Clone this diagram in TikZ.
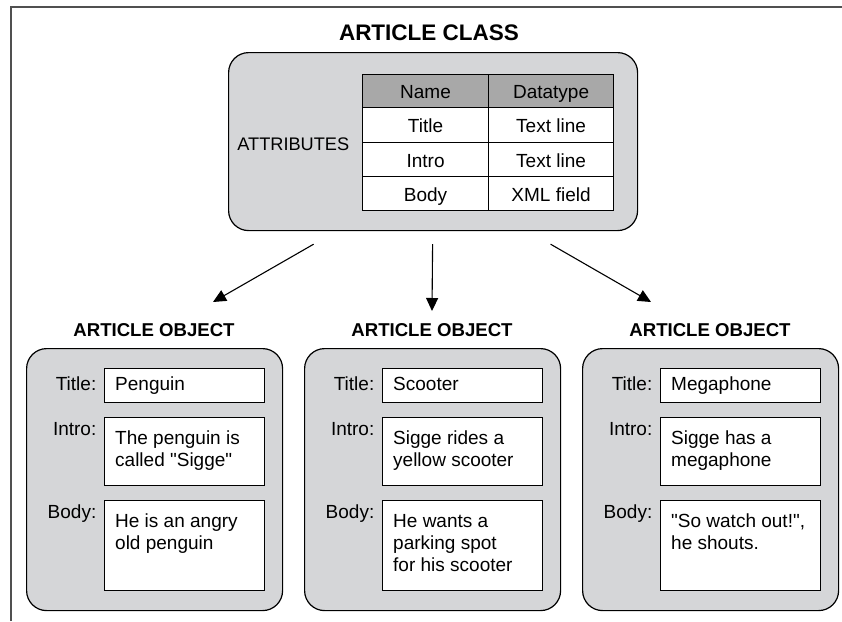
\documentclass[tikz,border=0pt]{standalone}
\usepackage{fontspec}
\setmainfont{Liberation Sans}[Ligatures=TeXOff]
\usetikzlibrary{arrows.meta,calc}
\definecolor{panelgray}{HTML}{D5D6D8}
\definecolor{hdrgray}{HTML}{A8A8A8}
\definecolor{framegray}{HTML}{505050}
\newcommand\myBody{\fontsize{19}{22}\selectfont}
\newcommand\myHead{\bfseries\fontsize{18.6}{20}\selectfont}
\newcommand\myClass{\bfseries\fontsize{22.5}{24}\selectfont}
\newcommand\myAttr{\fontsize{18.2}{20}\selectfont}
\tikzset{
  panel/.style={draw=black, line width=1.2pt, fill=panelgray, rounded corners=20pt,
    anchor=north west, minimum width=256pt, minimum height=262pt, inner sep=0pt},
  field/.style={draw=black, line width=1.1pt, fill=white, anchor=north west,
    minimum width=160pt, inner sep=0pt},
  ftext/.style={anchor=base west, inner sep=0pt, font=\myBody},
  flabel/.style={anchor=base east, inner sep=0pt, font=\myBody},
  heading/.style={anchor=base, inner sep=0pt, font=\myHead},
  cell/.style={draw=black, line width=1.1pt, fill=white, anchor=north west,
    inner sep=0pt, text height=15pt, text depth=0pt, font=\myBody},
  arr/.style={line width=1.1pt, -{Triangle[length=13pt,width=12pt]}},
}
\newcommand\objpanel[2]{%
  \node[heading] (h#1) at (#2+128,336.7) {ARTICLE OBJECT};
  \node[panel] (p#1) at (#2,348) {};
  \node[field, minimum height=34pt] (t#1) at (#2+77.5,367.7) {};
  \node[field, minimum height=68.3pt] (i#1) at (#2+77.5,416.7) {};
  \node[field, minimum height=90pt] (b#1) at (#2+77.5,500) {};
  \node[flabel] (tl#1) at ($(t#1.north west)+(-7,23)$) {Title:};
  \node[flabel] (il#1) at ($(i#1.north west)+(-7,18.3)$) {Intro:};
  \node[flabel] (bl#1) at ($(b#1.north west)+(-7,18.3)$) {Body:};
}
\begin{document}
\begin{tikzpicture}[x=1pt,y=-1pt]
\useasboundingbox (0,0) rectangle (842,621);
\fill[white] (0,0) rectangle (842,621);
% frame
\draw[framegray, line width=2pt] (11,621) -- (11,7) -- (842,7);

% class
\node[heading, font=\myClass] (ctitle) at (429,40) {ARTICLE CLASS};
\node[panel, minimum width=409pt, minimum height=178pt] (cls) at (228,52) {};
\node[anchor=base, inner sep=0pt, font=\myAttr] (attr) at (293.3,150) {ATTRIBUTES};
\node[cell, fill=hdrgray, minimum width=126pt, minimum height=33.3pt] (c11) at (362,74) {Name};
\node[cell, fill=hdrgray, minimum width=125pt, minimum height=33.3pt] (c12) at (488,74) {Datatype};
\node[cell, minimum width=126pt, minimum height=35pt] (c21) at (362,107.3) {Title};
\node[cell, minimum width=125pt, minimum height=35pt] (c22) at (488,107.3) {Text line};
\node[cell, minimum width=126pt, minimum height=33.7pt] (c31) at (362,142.3) {Intro};
\node[cell, minimum width=125pt, minimum height=33.7pt] (c32) at (488,142.3) {Text line};
\node[cell, minimum width=126pt, minimum height=34pt] (c41) at (362,176) {Body};
\node[cell, minimum width=125pt, minimum height=34pt] (c42) at (488,176) {XML field};

% objects
\objpanel{1}{26}
\objpanel{2}{304}
\objpanel{3}{582}

\node[ftext] (tt1) at ($(t1.north west)+(11.5,23)$) {Penguin};
\node[ftext] (it1a) at ($(i1.north west)+(11.5,28)$) {The penguin is};
\node[ftext] (it1b) at ($(i1.north west)+(11.5,50)$) {called "Sigge"};
\node[ftext] (bt1a) at ($(b1.north west)+(11.5,27.5)$) {He is an angry};
\node[ftext] (bt1b) at ($(b1.north west)+(11.5,49.5)$) {old penguin};

\node[ftext] (tt2) at ($(t2.north west)+(11.5,23)$) {Scooter};
\node[ftext] (it2a) at ($(i2.north west)+(11.5,28)$) {Sigge rides a};
\node[ftext] (it2b) at ($(i2.north west)+(11.5,50)$) {yellow scooter};
\node[ftext] (bt2a) at ($(b2.north west)+(11.5,27.5)$) {He wants a};
\node[ftext] (bt2b) at ($(b2.north west)+(11.5,49.5)$) {parking spot};
\node[ftext] (bt2c) at ($(b2.north west)+(11.5,71.5)$) {for his scooter};

\node[ftext] (tt3) at ($(t3.north west)+(11.5,23)$) {Megaphone};
\node[ftext] (it3a) at ($(i3.north west)+(11.5,28)$) {Sigge has a};
\node[ftext] (it3b) at ($(i3.north west)+(11.5,50)$) {megaphone};
\node[ftext] (bt3a) at ($(b3.north west)+(11.5,27.5)$) {"So watch out!",};
\node[ftext] (bt3b) at ($(b3.north west)+(11.5,49.5)$) {he shouts.};

% arrows
\coordinate (s1) at ($(cls.south)+(-119.5,13)$);
\coordinate (s2) at ($(cls.south)+(-0.5,13)$);
\coordinate (s3) at ($(cls.south)+(117.5,13)$);
\coordinate (e1) at ($(h1.base)+(59,-34.7)$);
\coordinate (e2) at ($(h2.base)+(0,-25.7)$);
\coordinate (e3) at ($(h3.base)+(-59,-34.7)$);
\draw[arr] (s1) -- (e1);
\draw[arr] (s2) -- (e2);
\draw[arr] (s3) -- (e3);
\end{tikzpicture}
\end{document}
